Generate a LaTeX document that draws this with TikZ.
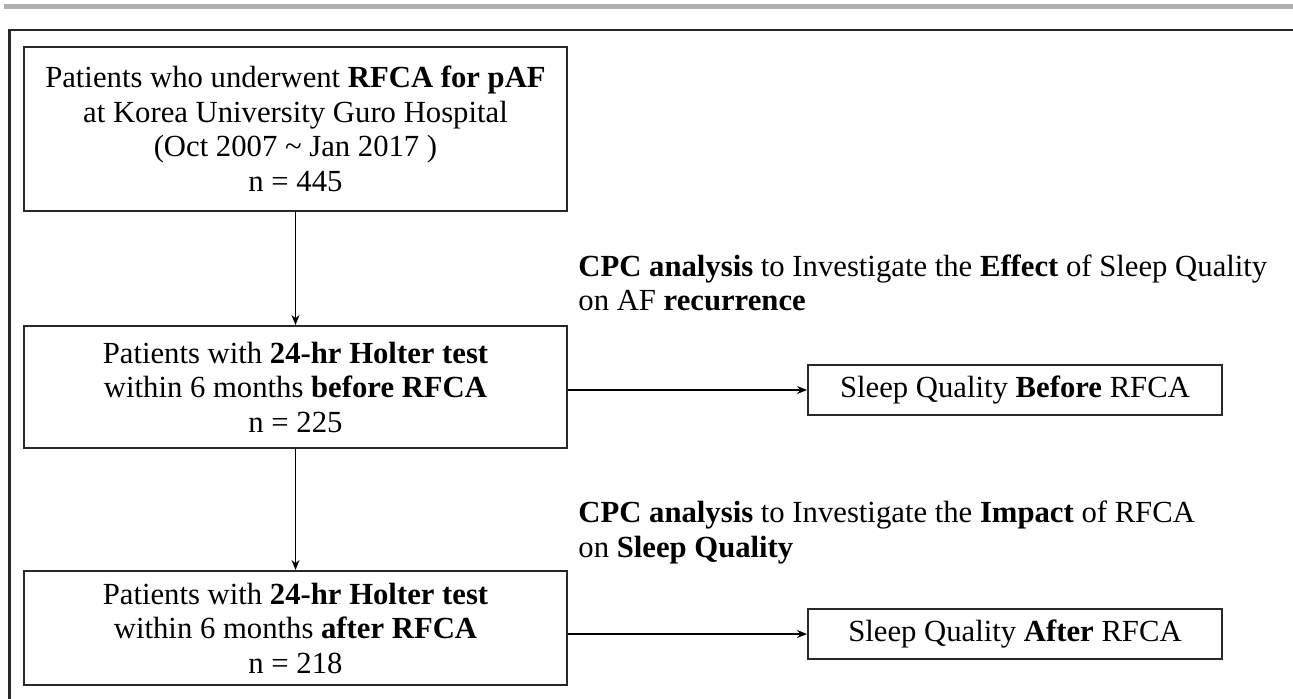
\documentclass[tikz,border=0pt]{standalone}
\usepackage{fontspec}
\setmainfont{Liberation Serif}
\usetikzlibrary{arrows.meta}
\definecolor{barra}{RGB}{176,176,179}
\definecolor{linha}{RGB}{40,40,40}

\begin{document}
\begin{tikzpicture}[x=0.5pt,y=-0.5pt,
  caixa/.style={draw=linha,line width=1pt,align=center,inner sep=0pt,
    font=\fontsize{15.35}{17.25}\selectfont},
  rotulo/.style={align=left,inner sep=0pt,font=\fontsize{15.35}{17.25}\selectfont},
  seta/.style={line width=0.85pt,-{Stealth[length=5pt,width=4pt]}}]
\useasboundingbox (0,0) rectangle (1293,699);
%moldura
  \fill[barra] (4,4) rectangle (1293,9);
  \draw[line width=1.2pt,linha] (9.5,699) -- (9.5,30) -- (1293,30);
%caixas da esquerda
  \node[caixa,minimum width=271.5pt,minimum height=82pt] (todos) at (295.5,129)
    {Patients who underwent \textbf{RFCA for pAF}\\at Korea University Guro Hospital\\(Oct 2007 \textasciitilde{} Jan 2017 )\\n = 445};
  \node[caixa,minimum width=271.5pt,minimum height=61pt] (antesH) at (295.5,387)
    {Patients with \textbf{24-hr Holter test}\\within 6 months \textbf{before RFCA}\\n = 225};
  \node[caixa,minimum width=271.5pt,minimum height=57pt] (depoisH) at (295.5,628)
    {Patients with \textbf{24-hr Holter test}\\within 6 months \textbf{after RFCA}\\n = 218};
%caixas da direita
  \node[caixa,minimum width=207pt,minimum height=25pt] (antes) at (1015,390)
    {Sleep Quality \textbf{Before} RFCA};
  \node[caixa,minimum width=207pt,minimum height=25pt] (depois) at (1015,634)
    {Sleep Quality \textbf{After} RFCA};
%rotulos
  \node[rotulo,anchor=base west] (efeito) at (578,311)
    {\textbf{CPC analysis} to Investigate the \textbf{Effect} of Sleep Quality\\on AF \textbf{recurrence}};
  \node[rotulo,anchor=base west] (impacto) at (578,557)
    {\textbf{CPC analysis} to Investigate the \textbf{Impact} of RFCA\\on \textbf{Sleep Quality}};
%setas
  \draw[seta] (todos) -- (antesH);
  \draw[seta] (antesH) -- (depoisH);
  \draw[seta] (antes.west -| antesH.east) -- (antes.west);
  \draw[seta] (depois.west -| depoisH.east) -- (depois.west);
\end{tikzpicture}
\end{document}
